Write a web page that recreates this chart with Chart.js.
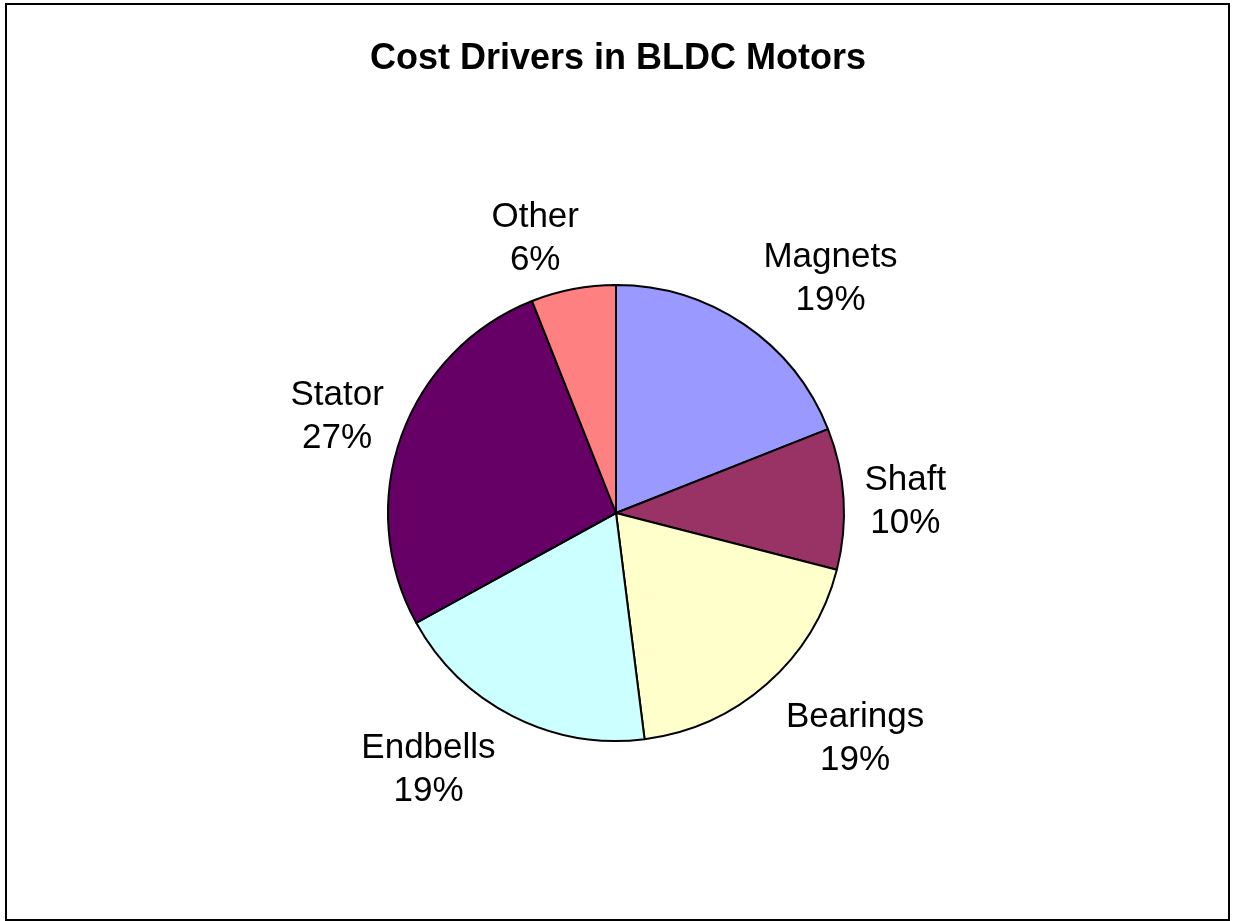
<!DOCTYPE html>
<html>
<head>
<meta charset="utf-8">
<title>Cost Drivers in BLDC Motors</title>
<script src="https://cdn.jsdelivr.net/npm/chart.js@4.4.1/dist/chart.umd.min.js"></script>
<style>
  html, body { margin: 0; padding: 0; background: #fff; }
  #wrap { width: 1236px; height: 921px; }
</style>
</head>
<body>
<div id="wrap"><canvas id="pie"></canvas></div>
<script>
/* ---------- DATA ---------- */
const chartTitle = 'Cost Drivers in BLDC Motors';
const parts      = ['Magnets', 'Shaft', 'Bearings', 'Endbells', 'Stator', 'Other'];
const shares     = [19, 10, 19, 19, 27, 6];
const partColors = ['#9999FF', '#993366', '#FFFFCC', '#CCFFFF', '#660066', '#FF8080'];

/* small nudges so the labels sit where Excel put them */
const labelNudge = [[43, -2], [11, 6], [36, 15], [-49, 6], [-11, -1], [-28, 2]];

/* ---------- PLUGINS ---------- */
const frameAndTitle = {
  id: 'frameAndTitle',
  beforeDraw(chart) {
    const c = chart.ctx;
    c.save();
    c.fillStyle = '#fff';
    c.fillRect(0, 0, chart.width, chart.height);
    c.restore();
  },
  afterDraw(chart) {
    const c = chart.ctx;
    c.save();
    c.strokeStyle = '#000';
    c.lineWidth = 2;
    c.strokeRect(6, 4, 1223, 916);
    c.fillStyle = '#000';
    c.font = 'bold 36px "Liberation Sans", Arial, sans-serif';
    c.textAlign = 'center';
    c.textBaseline = 'alphabetic';
    c.fillText(chartTitle, 618, 69);
    c.restore();
  }
};

const outsideLabels = {
  id: 'outsideLabels',
  afterDatasetsDraw(chart) {
    const c = chart.ctx;
    const meta = chart.getDatasetMeta(0);
    const lineH = 43;
    c.save();
    c.fillStyle = '#000';
    c.font = '35px "Liberation Sans", Arial, sans-serif';
    c.textAlign = 'center';
    c.textBaseline = 'middle';
    meta.data.forEach((arc, i) => {
      const mid = (arc.startAngle + arc.endAngle) / 2;
      const ux = Math.cos(mid), uy = Math.sin(mid);
      const line1 = parts[i];
      const line2 = shares[i] + '%';
      const w = Math.max(c.measureText(line1).width, c.measureText(line2).width);
      const h = lineH * 2;
      const r = arc.outerRadius + 10;
      const x = arc.x + r * ux + (w / 2) * ux + labelNudge[i][0];
      const y = arc.y + r * uy + (h / 2) * uy + labelNudge[i][1];
      c.fillText(line1, x, y - lineH / 2);
      c.fillText(line2, x, y + lineH / 2);
    });
    c.restore();
  }
};

/* ---------- CHART ---------- */
new Chart(document.getElementById('pie'), {
  type: 'pie',
  data: {
    labels: parts,
    datasets: [{
      data: shares,
      backgroundColor: partColors,
      borderColor: '#000',
      borderWidth: 2,
      hoverOffset: 0
    }]
  },
  options: {
    responsive: true,
    maintainAspectRatio: false,
    animation: false,
    devicePixelRatio: 1,
    events: [],
    layout: { padding: { top: 284, bottom: 179, left: 100, right: 104 } },
    plugins: {
      legend: { display: false },
      tooltip: { enabled: false },
      title: { display: false }
    }
  },
  plugins: [frameAndTitle, outsideLabels]
});
</script>
</body>
</html>
